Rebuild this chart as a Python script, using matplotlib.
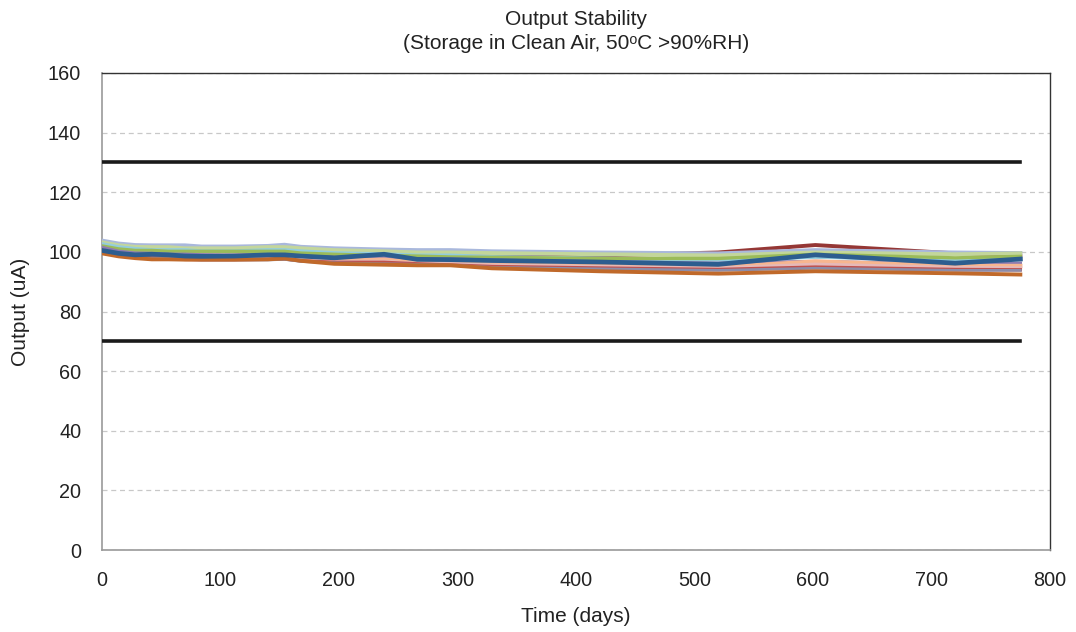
import matplotlib
matplotlib.use("Agg")
import matplotlib.pyplot as plt

plt.rcParams['font.family'] = ['Liberation Sans', 'DejaVu Sans']

days = [0, 14, 28, 42, 56, 70, 84, 112, 140, 154, 168, 196, 238, 266, 294, 329, 420, 520, 602, 720, 775]

s_darkred = [100.5, 99.5, 99, 99, 98.8, 98.8, 98.8, 98.8, 98.8, 99, 98.8, 98.5, 98.5, 98.5, 98.5, 98.5, 98.8, 99.8, 102.3, 99.5, 98.5]
s_lavender = [103.8, 102.8, 102.3, 102.2, 102.2, 102.2, 101.8, 101.8, 102, 102.4, 101.7, 101.2, 100.8, 100.6, 100.6, 100.2, 99.8, 99.5, 100.6, 99.8, 99.6]
s_lightgreen = [103.2, 102.2, 101.7, 101.6, 101.6, 101.2, 101.2, 101.2, 101.6, 101.6, 101.2, 100.6, 100.2, 99.8, 99.8, 99.6, 99.2, 98.8, 99.8, 99.2, 99.5]
s_lightaqua = [102.6, 101.6, 101, 100.6, 100.6, 100.6, 100.2, 100.2, 100.6, 100.6, 100.2, 99.6, 99.2, 98.8, 98.8, 98.3, 97.8, 97.2, 98.3, 97.3, 97.8]
s_green = [102, 101, 100.5, 100.5, 100.2, 100.2, 100.2, 100.2, 100.2, 100.2, 99.6, 99.2, 98.8, 98.6, 98.3, 98.2, 97.8, 97.8, 99.2, 98, 98.5]
s_purple = [101.5, 100.2, 99.6, 99.5, 99.2, 99.2, 99, 98.6, 98.6, 99, 98.6, 98.1, 98.2, 97.6, 97.6, 97.2, 96.7, 96.2, 96.8, 95.8, 96.2]
s_salmon = [100.5, 99.2, 98.6, 98.1, 98.1, 97.8, 97.6, 97.6, 98, 98.2, 97.6, 97.1, 97.4, 96.4, 96.3, 95.8, 95.3, 94.8, 96.8, 95.3, 95.3]
s_pink = [100, 99, 98.5, 98, 98, 97.5, 97.5, 97.5, 97.9, 98, 97.2, 96.7, 96.8, 96.1, 96, 95.5, 95, 94.5, 95.8, 94.7, 94.6]
s_red = [100, 99, 98.4, 98, 97.9, 97.5, 97.4, 97.4, 97.5, 97.6, 97, 96.5, 96.5, 96, 95.6, 95.1, 94.6, 94.1, 94.9, 94.1, 94]
s_slate = [99.8, 98.8, 98.3, 97.8, 97.8, 97.5, 97.3, 97.3, 97.3, 97.5, 96.8, 96.3, 96, 95.8, 95.5, 94.8, 94.3, 93.8, 94.5, 93.8, 93.8]
s_orange = [99.5, 98.5, 97.9, 97.5, 97.5, 97.4, 97.4, 97.4, 97.5, 97.8, 97, 96, 95.7, 95.5, 95.5, 94.5, 93.5, 92.7, 93.5, 92.8, 92.4]
s_main = [100.5, 99.5, 99, 99.2, 99, 98.6, 98.5, 98.6, 99, 99, 98.6, 98, 99.2, 97.5, 97.4, 97.1, 96.6, 95.8, 99, 96.2, 97.6]

limit_days = [0, 775]
upper_limit = [130, 130]
lower_limit = [70, 70]

series = [
    (s_darkred, '#953735', 2.8),
    (s_lavender, '#A9B8DC', 2.8),
    (s_lightgreen, '#C3D69B', 2.8),
    (s_lightaqua, '#93CDDD', 2.8),
    (s_green, '#9BBB59', 2.4),
    (s_purple, '#8E7CB0', 2.4),
    (s_salmon, '#F7B68F', 3.0),
    (s_pink, '#E6B9B8', 2.6),
    (s_red, '#C0504D', 2.4),
    (s_slate, '#8C8CA8', 2.0),
    (s_orange, '#C0692A', 2.8),
    (s_main, '#2C5D8F', 3.4),
]

fig = plt.figure(figsize=(10.76, 6.32), dpi=100)
ax = fig.add_axes([0.0948, 0.1297, 0.881, 0.7548])

for vals, col, lw in series:
    ax.plot(days, vals, color=col, lw=lw, solid_joinstyle='round', zorder=3)

ax.plot(limit_days, upper_limit, color='#1a1a1a', lw=2.6, zorder=4)
ax.plot(limit_days, lower_limit, color='#1a1a1a', lw=2.6, zorder=4)

ax.set_xlim(0, 800)
ax.set_ylim(0, 160)
ax.set_xticks(range(0, 801, 100))
ax.set_yticks(range(0, 161, 20))
ax.tick_params(length=0, labelsize=14.3, colors='#222222')
ax.tick_params(axis='x', pad=15)
ax.tick_params(axis='y', pad=15)
ax.yaxis.grid(True, linestyle=(0, (4, 3)), color='#c8c8c8', lw=0.9, zorder=0)
ax.set_axisbelow(True)

for s in ['left', 'bottom']:
    ax.spines[s].set_color('#999999')
    ax.spines[s].set_linewidth(1.2)
for s in ['top', 'right']:
    ax.spines[s].set_color('#333333')
    ax.spines[s].set_linewidth(1.0)

ax.set_xlabel('Time (days)', fontsize=15, color='#222222', labelpad=12)
ax.set_ylabel('Output (uA)', fontsize=15, color='#222222', labelpad=13)
ax.set_title('Output Stability\n(Storage in Clean Air, 50\u1d52C >90%RH)', fontsize=15,
             color='#222222', pad=17, linespacing=1.38)

fig.savefig('out.png', dpi=100, facecolor='white')
